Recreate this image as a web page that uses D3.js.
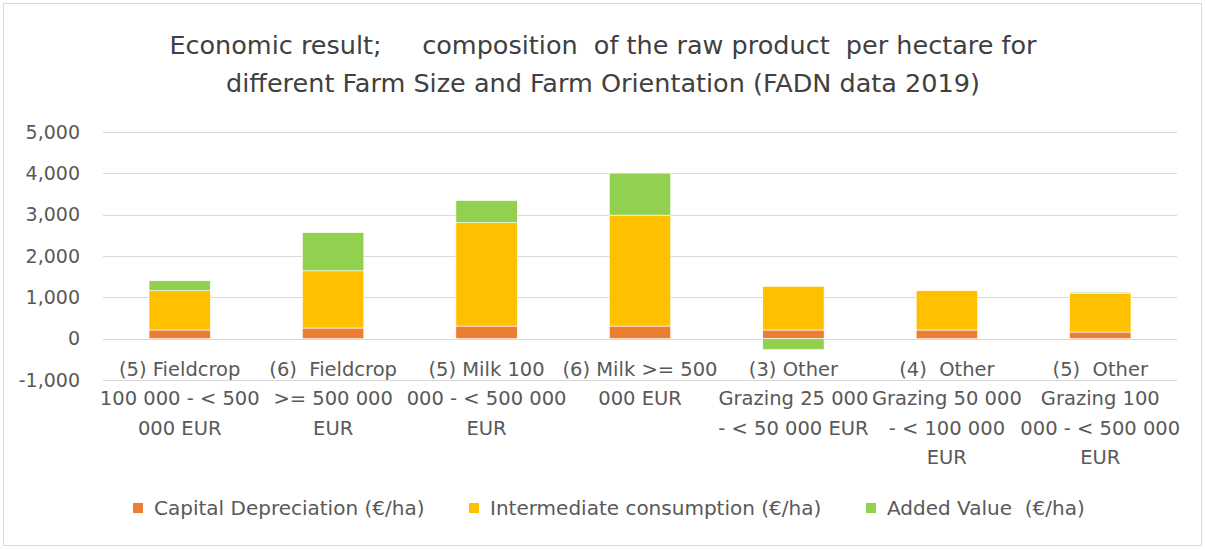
<!DOCTYPE html>
<html>
<head>
<meta charset="utf-8">
<script src="https://cdn.jsdelivr.net/npm/d3@7"></script>
<style>
  body { margin: 0; background: #fff; }
  text { font-family: "DejaVu Sans", sans-serif; white-space: pre; }
</style>
</head>
<body>
<div id="chart"></div>
<script>
// data
const categories = [
    ['(5) Fieldcrop', '100 000 - < 500', '000 EUR'],
    ['(6)  Fieldcrop', '>= 500 000', 'EUR'],
    ['(5) Milk 100', '000 - < 500 000', 'EUR'],
    ['(6) Milk >= 500', '000 EUR'],
    ['(3) Other', 'Grazing 25 000', '- < 50 000 EUR'],
    ['(4)  Other', 'Grazing 50 000', '- < 100 000', 'EUR'],
    ['(5)  Other', 'Grazing 100', '000 - < 500 000', 'EUR']
];
const seriesNames = ['Capital Depreciation (€/ha)', 'Intermediate consumption (€/ha)', 'Added Value  (€/ha)'];
const depreciation = [210, 257, 305, 305, 209, 209, 160];
const intermediate = [950, 1385, 2500, 2684, 1057, 952, 930];
const addedValue = [240, 923, 537, 1017, -265, 0, 32];
const yTicks = [-1000, 0, 1000, 2000, 3000, 4000, 5000];
const colors = ['#ED7D31', '#FFC000', '#92D050'];

const W = 1205, H = 550;
const margin = {top: 132, right: 28, bottom: 170, left: 103};
const width = W - margin.left - margin.right;
const height = H - margin.top - margin.bottom;

const svg = d3.select('#chart').append('svg')
    .attr('width', W)
    .attr('height', H);

// outer frame
svg.append('rect')
    .attr('x', 3.5).attr('y', 3.5)
    .attr('width', W - 7).attr('height', H - 8)
    .attr('fill', '#fff')
    .attr('stroke', '#d9d9d9');

// title
const title = svg.append('text')
    .attr('text-anchor', 'middle')
    .attr('fill', '#404040')
    .style('font-size', '25.5px');
title.append('tspan').attr('x', 603).attr('y', 54)
    .text('Economic result;     composition  of the raw product  per hectare for');
title.append('tspan').attr('x', 603).attr('y', 92)
    .text('different Farm Size and Farm Orientation (FADN data 2019)');

const g = svg.append('g')
    .attr('transform', 'translate(' + margin.left + ',' + margin.top + ')');

const rows = categories.map((c, i) => ({
    idx: i,
    dep: depreciation[i],
    ic: intermediate[i],
    av: addedValue[i]
}));

const keys = ['dep', 'ic', 'av'];

let xScale = d3.scaleBand()
    .domain(rows.map(d => d.idx))
    .range([0, width])
    .paddingInner(0.6)
    .paddingOuter(0.3);

let yScale = d3.scaleLinear()
    .domain([-1000, 5000])
    .range([height, 0]);

// gridlines
g.append('g')
    .selectAll('line')
    .data(yTicks)
    .join('line')
    .attr('x1', 0).attr('x2', width)
    .attr('y1', d => Math.round(yScale(d)) + 0.5)
    .attr('y2', d => Math.round(yScale(d)) + 0.5)
    .attr('stroke', '#d9d9d9')
    .attr('stroke-width', 1.2);

// y axis labels
const fmt = d3.format(',');
let yAxis = d3.axisLeft(yScale)
    .tickValues(yTicks)
    .tickFormat(d => fmt(d).replace('\u2212', '-'))
    .tickSize(0)
    .tickPadding(23);

let yAxisGroup = g.append('g')
    .attr('class', 'axis y-axis')
    .call(yAxis);
yAxisGroup.select('.domain').remove();
yAxisGroup.selectAll('text')
    .attr('fill', '#595959')
    .style('font-size', '19px')
    .style('font-family', '"DejaVu Sans", sans-serif');

// stacked bars
const stack = d3.stack().keys(keys).offset(d3.stackOffsetDiverging);
const series = stack(rows);

g.append('g')
    .selectAll('g')
    .data(series)
    .join('g')
    .attr('fill', (d, i) => colors[i])
    .selectAll('rect')
    .data(d => d)
    .join('rect')
    .attr('x', d => xScale(d.data.idx))
    .attr('width', xScale.bandwidth())
    .attr('y', d => yScale(Math.max(d[0], d[1])))
    .attr('height', d => Math.abs(yScale(d[0]) - yScale(d[1])))
    .attr('stroke', '#fff')
    .attr('stroke-width', 0.6);

// category labels (sit inside the plot, below zero)
const xl = g.append('g');
categories.forEach((lines, i) => {
    const cx = xScale(i) + xScale.bandwidth() / 2;
    const t = xl.append('text')
        .attr('text-anchor', 'middle')
        .attr('fill', '#595959')
        .style('font-size', '19.5px');
    lines.forEach((ln, j) => {
        t.append('tspan')
            .attr('x', cx)
            .attr('y', yScale(0) + 37 + j * 29.5)
            .text(ln);
    });
});

// legend
const legendX = [133, 469, 866];
const legend = svg.append('g');
seriesNames.forEach((name, i) => {
    legend.append('rect')
        .attr('x', legendX[i]).attr('y', 503)
        .attr('width', 10).attr('height', 10)
        .attr('fill', colors[i]);
    legend.append('text')
        .attr('x', legendX[i] + 21).attr('y', 515)
        .attr('fill', '#595959')
        .style('font-size', '20px')
        .text(name);
});
</script>
</body>
</html>
